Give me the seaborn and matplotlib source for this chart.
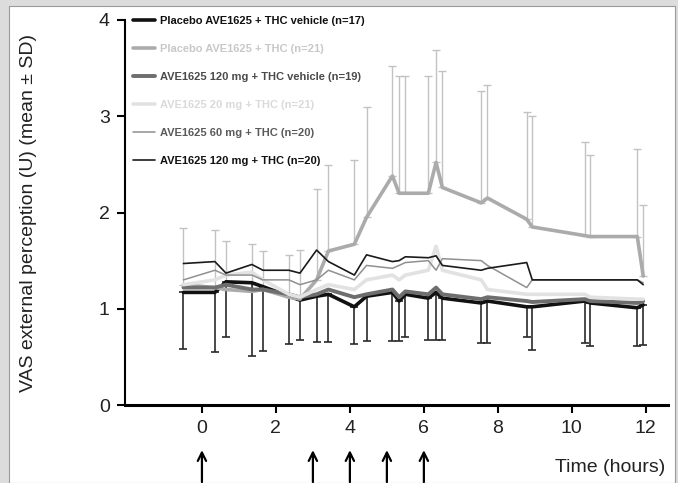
import matplotlib
matplotlib.use("Agg")
import matplotlib.pyplot as plt
import seaborn as sns
import pandas as pd
from matplotlib.patches import Rectangle
from matplotlib.lines import Line2D

sns.set_theme(style="ticks")
plt.rcParams['font.family'] = ['Liberation Sans', 'DejaVu Sans']

# ---------------- data ----------------
times = [-0.5, 0.35, 0.65, 1.35, 1.65, 2.35, 2.65, 3.1, 3.42, 4.12, 4.45,
         5.15, 5.33, 5.5, 6.12, 6.33, 6.5, 7.55, 7.72, 8.78, 8.93,
         10.35, 10.5, 11.77, 11.93]

labels = [
    "Placebo AVE1625 + THC vehicle (n=17)",
    "Placebo AVE1625 + THC (n=21)",
    "AVE1625 120 mg + THC vehicle (n=19)",
    "AVE1625 20 mg + THC (n=21)",
    "AVE1625 60 mg + THC (n=20)",
    "AVE1625 120 mg + THC (n=20)",
]

plc_veh = [1.17, 1.17, 1.28, 1.27, 1.23, 1.13, 1.09, 1.13, 1.15, 1.02, 1.13,
           1.17, 1.08, 1.15, 1.11, 1.17, 1.11, 1.06, 1.08, 1.02, 1.02,
           1.08, 1.06, 1.01, 1.04]
plc_veh_sd = [0.59, 0.62, 0.57, 0.76, 0.67, 0.50, 0.41, 0.48, 0.50, 0.39, 0.47,
              0.51, 0.42, 0.44, 0.43, 0.49, 0.43, 0.42, 0.44, 0.31, 0.45,
              0.44, 0.45, 0.40, 0.42]

plc_thc = [1.25, 1.22, 1.20, 1.18, 1.20, 1.12, 1.10, 1.30, 1.60, 1.67, 1.95,
           2.38, 2.20, 2.20, 2.20, 2.52, 2.26, 2.10, 2.15, 1.93, 1.85,
           1.76, 1.75, 1.75, 1.34]
plc_thc_sd = [0.59, 0.60, 0.50, 0.49, 0.40, 0.44, 0.51, 0.94, 0.89, 0.88, 1.15,
              1.14, 1.22, 1.22, 1.22, 1.17, 1.21, 1.16, 1.17, 1.11, 1.15,
              0.97, 0.85, 0.91, 0.74]

ave120_veh = [1.22, 1.22, 1.25, 1.20, 1.20, 1.15, 1.12, 1.15, 1.20, 1.12, 1.15,
              1.20, 1.12, 1.18, 1.15, 1.22, 1.15, 1.10, 1.12, 1.08, 1.07,
              1.10, 1.08, 1.06, 1.08]

ave20_thc = [1.25, 1.30, 1.35, 1.38, 1.30, 1.15, 1.12, 1.20, 1.25, 1.20, 1.30,
             1.35, 1.30, 1.35, 1.40, 1.65, 1.40, 1.30, 1.20, 1.15, 1.15,
             1.15, 1.12, 1.10, 1.10]

ave60_thc = [1.30, 1.40, 1.35, 1.35, 1.30, 1.30, 1.25, 1.30, 1.40, 1.30, 1.45,
             1.42, 1.45, 1.48, 1.50, 1.40, 1.52, 1.50, 1.45, 1.22, 1.30,
             1.30, 1.30, 1.30, 1.27]

ave120_thc = [1.47, 1.49, 1.37, 1.46, 1.40, 1.40, 1.37, 1.61, 1.49, 1.35, 1.56,
              1.49, 1.50, 1.54, 1.53, 1.55, 1.45, 1.40, 1.42, 1.48, 1.30,
              1.30, 1.30, 1.30, 1.25]

dose_times = [0, 3, 4, 5, 6]
xticks = [0, 2, 4, 6, 8, 10, 12]
yticks = [0, 1, 2, 3, 4]

series = [plc_veh, plc_thc, ave120_veh, ave20_thc, ave60_thc, ave120_thc]
colors = ["#111111", "#ababab", "#6e6e6e", "#e2e2e2", "#909090", "#1a1a1a"]
widths = [2.6, 2.6, 2.8, 2.6, 1.1, 1.2]

rows = []
for lab, vals in zip(labels, series):
    for t, v in zip(times, vals):
        rows.append({"time": t, "value": v, "group": lab})
df = pd.DataFrame(rows)

# ---------------- figure ----------------
fig = plt.figure(figsize=(6.78, 4.83), dpi=100, facecolor="#dcdcdc")
fig.patches.append(Rectangle((9 / 678, 0), (675 - 9) / 678, (483 - 6) / 483,
                             transform=fig.transFigure, facecolor="white",
                             edgecolor="#9a9a9a", lw=0.8, zorder=-10))
ax = fig.add_axes([125 / 678, (483 - 405) / 483, (668 - 125) / 678, (405 - 20) / 483])
ax.set_zorder(5)
ax.patch.set_alpha(0)

# error bars
ax.errorbar(times, plc_thc, yerr=[[0] * len(times), plc_thc_sd], fmt="none",
            ecolor="#c2c2c2", elinewidth=1.0, capsize=3, capthick=1.0, zorder=1)
ax.errorbar(times, plc_veh, yerr=[plc_veh_sd, [0] * len(times)], fmt="none",
            ecolor="#2a2a2a", elinewidth=1.2, capsize=3, capthick=1.2, zorder=2)

order = [3, 1, 4, 2, 5, 0]
for i in order:
    sub = df[df["group"] == labels[i]]
    sns.lineplot(data=sub, x="time", y="value", ax=ax, color=colors[i],
                 lw=widths[i], sort=False, legend=False, zorder=3 + i)

ax.set_xlim(-2.08, 12.6)
ax.set_ylim(0, 4)
ax.set_xticks(xticks)
ax.set_yticks(yticks)
ax.tick_params(axis="both", labelsize=14, length=6, width=1.5, color="black",
               labelcolor="#222222", pad=5)
for s in ["top", "right"]:
    ax.spines[s].set_visible(False)
ax.spines["left"].set_linewidth(1.5)
ax.spines["bottom"].set_linewidth(2.2)
ax.spines["left"].set_color("black")
ax.spines["bottom"].set_color("black")
ax.set_xlabel("")
ax.set_ylabel("VAS external perception (U) (mean ± SD)", fontsize=14, color="#222222")
ax.yaxis.set_label_coords(-0.162, 0.5)

# legend
handles = [Line2D([0], [0], color=c, lw=w) for c, w in zip(colors, widths)]
leg = ax.legend(handles, labels, loc="upper left", bbox_to_anchor=(0.0, 1.03),
                frameon=False, prop={"size": 8, "weight": "bold"},
                handlelength=2.0, handletextpad=0.45, labelspacing=1.62,
                borderaxespad=0.3)
text_colors = ["#111111", "#c8c8c8", "#4a4a4a", "#dadada", "#5a5a5a", "#111111"]
for txt, c in zip(leg.get_texts(), text_colors):
    txt.set_color(c)

# dosing arrows
for t in dose_times:
    ax.annotate("", xy=(t, -0.44), xytext=(t, -0.83), xycoords="data",
                textcoords="data", annotation_clip=False,
                arrowprops=dict(arrowstyle="->", color="black", lw=1.6,
                                mutation_scale=15))

fig.text(665 / 678, (483 - 468) / 483, "Time (hours)", ha="right", va="center",
         fontsize=14, color="#222222")

fig.savefig("out.png", dpi=100, facecolor=fig.get_facecolor())
